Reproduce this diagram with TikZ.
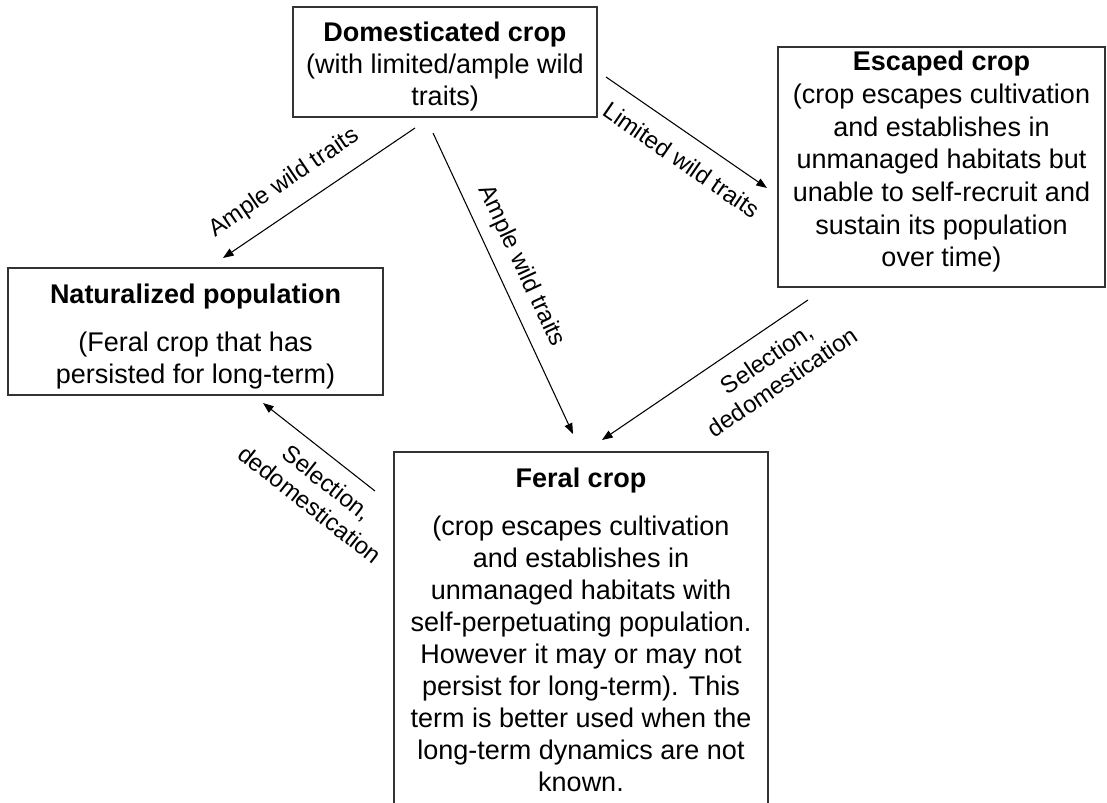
\documentclass[tikz,border=0pt]{standalone}
\usepackage{fontspec}
\setmainfont{Liberation Sans}
\usetikzlibrary{arrows.meta}
\tikzstyle{box} = [rectangle, draw=black!80, line width=0.9pt, inner sep=0pt]
\tikzstyle{boxtext} = [align=center, font=\fontsize{20.25pt}{24pt}\selectfont]
\tikzstyle{arrow} = [-{Triangle[length=8pt, width=6pt]}, line width=0.8pt]
\tikzstyle{lbl} = [align=center, sloped, inner sep=12pt, font=\fontsize{18pt}{21pt}\selectfont]

\begin{document}
\begin{tikzpicture}[x=0.75pt, y=-0.75pt]
    \useasboundingbox (0,0) rectangle (1107,803);

    % Domesticated crop
    \node[box, minimum width=228pt, minimum height=82.5pt] (dom) at (445,62) {};
    \node[boxtext] (domtxt) at (445,67) {\textbf{Domesticated crop}\\(with limited/ample wild\\traits)};

    % Escaped crop
    \node[box, minimum width=245.25pt, minimum height=180pt] (esc) at (941.5,167) {};
    \node[boxtext, font=\fontsize{20.25pt}{24.5pt}\selectfont] (esctxt) at (941.5,162) {\textbf{Escaped crop}\\(crop escapes cultivation\\and establishes in\\unmanaged habitats but\\unable to self-recruit and\\sustain its population\\over time)};

    % Naturalized population
    \node[box, minimum width=281.25pt, minimum height=95.25pt] (nat) at (195.5,331.5) {};
    \node[boxtext] (nattxt) at (195.5,337) {\textbf{Naturalized population}\\[12pt](Feral crop that has\\persisted for long-term)};

    % Feral crop (runs past the bottom edge)
    \node[box, minimum width=280.5pt, minimum height=276pt] (fer) at (581,636) {};
    \node[boxtext] (fertxt) at (581,630) {\textbf{Feral crop}\\[12pt](crop escapes cultivation\\and establishes in\\unmanaged habitats with\\self-perpetuating population.\\However it may or may not\\persist for long-term). This\\term is better used when the\\long-term dynamics are not\\known.};

    % Arrow end points
    \coordinate (domnat1) at (415,128);
    \coordinate (domnat2) at (223,258);
    \coordinate (domfer1) at (433,133);
    \coordinate (domfer2) at (573,434);
    \coordinate (domesc1) at (606,77);
    \coordinate (domesc2) at (767,188);
    \coordinate (escfer1) at (808,300);
    \coordinate (escfer2) at (602,440);
    \coordinate (fernat1) at (375,491);
    \coordinate (fernat2) at (263,403);

    % Arrows
    \draw[arrow] (domnat1) -- node[lbl, pos=0.6, above] {Ample wild traits} (domnat2);
    \draw[arrow] (domfer1) -- node[lbl, pos=0.475, above, inner sep=9pt] {Ample wild traits} (domfer2);
    \draw[arrow] (domesc1) -- node[lbl, pos=0.56, below] {Limited wild traits} (domesc2);
    \draw[arrow] (escfer1) -- node[lbl, pos=0.27, below] {Selection,\\dedomestication} (escfer2);
    \draw[arrow] (fernat1) -- node[lbl, pos=0.3, below, inner sep=10pt] {Selection,\\dedomestication} (fernat2);
\end{tikzpicture}
\end{document}
